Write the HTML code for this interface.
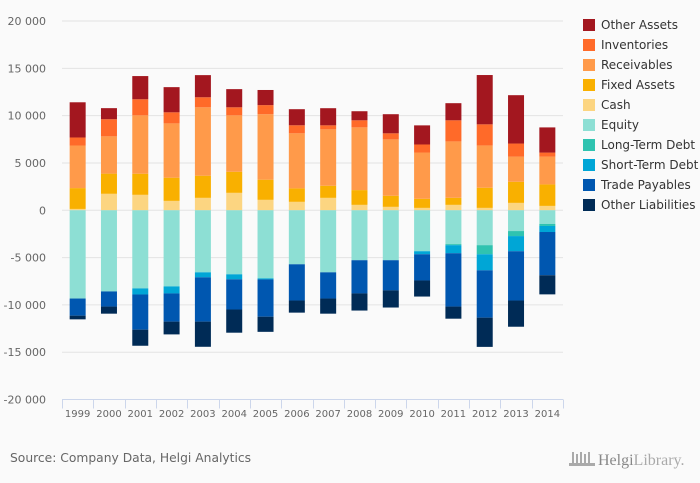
<!DOCTYPE html>
<html><head><meta charset="utf-8"><style>
body{margin:0;background:#fafafa;font-family:"Liberation Sans","DejaVu Sans",sans-serif;}
#wrap{position:relative;width:700px;height:483px;background:#fafafa;overflow:hidden}
svg text{font-family:"DejaVu Sans","Liberation Sans",sans-serif}
</style></head><body>
<div id="wrap">
<svg id="chart" width="700" height="483"></svg>
</div>
<script>
const years=["1999","2000","2001","2002","2003","2004","2005","2006","2007","2008","2009","2010","2011","2012","2013","2014"];
const cash=[140,1740,1630,990,1310,1840,1100,890,1310,570,360,250,570,250,780,460];
const fixedAssets=[2200,2130,2230,2450,2340,2230,2130,1420,1280,1560,1170,960,745,2130,2230,2270];
const receivables=[4500,3940,6170,5740,7230,5960,6920,5820,5960,6630,5960,4890,5960,4470,2660,2940];
const inventories=[850,1810,1700,1170,1060,850,960,850,425,745,640,850,2230,2230,1380,425];
const otherAssets=[3720,1170,2450,2660,2340,1920,1600,1700,1810,960,2020,2020,1810,5210,5110,2660];
const equity=[-9330,-8580,-8260,-8050,-6560,-6770,-7200,-5710,-6560,-5280,-5280,-4330,-3580,-3690,-2200,-1450];
const longTermDebt=[0,0,0,0,0,0,0,0,0,0,0,0,-110,-960,-530,-210];
const shortTermDebt=[0,0,-640,-740,-530,-530,-110,0,0,0,0,-320,-850,-1700,-1600,-640];
const tradePayables=[-1810,-1600,-3720,-2980,-4680,-3190,-3940,-3830,-2770,-3510,-3190,-2770,-5640,-5000,-5210,-4570];
const otherLiabilities=[-390,-750,-1700,-1350,-2660,-2450,-1600,-1280,-1600,-1810,-1810,-1700,-1280,-3090,-2770,-2020];
const yTicks=[20000,15000,10000,5000,0,-5000,-10000,-15000,-20000];
const yTickLabels=["20 000","15 000","10 000","5 000","0","-5 000","-10 000","-15 000","-20 000"];

const series=[
 {name:"Cash",data:cash,color:"#fcd581",key:"cash"},
 {name:"Fixed Assets",data:fixedAssets,color:"#f9b000",key:"fixed-assets"},
 {name:"Receivables",data:receivables,color:"#ff9a4a",key:"receivables"},
 {name:"Inventories",data:inventories,color:"#ff6a29",key:"inventories"},
 {name:"Other Assets",data:otherAssets,color:"#a3171f",key:"other-assets"},
 {name:"Equity",data:equity,color:"#8ddfd4",key:"equity"},
 {name:"Long-Term Debt",data:longTermDebt,color:"#2fc3b0",key:"long-term-debt"},
 {name:"Short-Term Debt",data:shortTermDebt,color:"#00a6d6",key:"short-term-debt"},
 {name:"Trade Payables",data:tradePayables,color:"#0057b0",key:"trade-payables"},
 {name:"Other Liabilities",data:otherLiabilities,color:"#002b56",key:"other-liabilities"}
];
const legendOrder=[4,3,2,1,0,5,6,7,8,9];

const NS="http://www.w3.org/2000/svg";
const svg=document.getElementById("chart");
function mk(t,a,p){const e=document.createElementNS(NS,t);for(const k in a)e.setAttribute(k,a[k]);(p||svg).appendChild(e);return e;}
const plotL=62,plotR=563,yTop=21,yBot=399.5;
function y(v){return yTop+(20000-v)/40000*(yBot-yTop);}
const band=(plotR-plotL)/years.length;
function xc(i){return plotL+band*(i+0.5);}
const bw=16;

yTicks.forEach((t,i)=>{
  if(t!==-20000){const g=mk("line",{x1:plotL,x2:plotR,y1:y(t),y2:y(t),stroke:"#e3e3e3","stroke-width":1});
  
  }
  const tx=mk("text",{x:46,y:y(t)+4,"text-anchor":"end","font-size":"11",fill:"#666"});
  tx.textContent=yTickLabels[i];
  
  
});

const posSum=years.map(()=>0),negSum=years.map(()=>0);
series.forEach(s=>{
  s.data.forEach((v,i)=>{
    if(!v)return;
    let y1,y2;
    if(v>0){y1=y(posSum[i]+v);y2=y(posSum[i]);posSum[i]+=v;}
    else{y1=y(negSum[i]);y2=y(negSum[i]+v);negSum[i]+=v;}
    const r=mk("rect",{x:xc(i)-bw/2,y:y1,width:bw,height:Math.max(0,y2-y1),fill:s.color});
    
    
  });
});

const ax=mk("line",{x1:plotL,x2:plotR,y1:yBot,y2:yBot,stroke:"#ccd6eb","stroke-width":1});


for(let i=0;i<=years.length;i++){
  const xx=Math.round(plotL+band*i)+0.5;
  const tk=mk("line",{x1:xx,x2:xx,y1:yBot,y2:yBot+9,stroke:"#ccd6eb","stroke-width":1});
  
  
}
years.forEach((yr,i)=>{
  const t=mk("text",{x:xc(i),y:417,"text-anchor":"middle","font-size":"10",fill:"#666"});
  t.textContent=yr;
  
  
});

legendOrder.forEach((si,k)=>{
  const s=series[si];
  const g=mk("g",{});
  
  
  const ly=25+k*20;
  mk("rect",{x:583,y:ly-6,width:12,height:12,fill:s.color},g);
  const t=mk("text",{x:601,y:ly+4,"font-size":"12",fill:"#333"},g);
  t.textContent=s.name;
});

const src=mk("text",{x:10,y:462,"font-size":"12.3",fill:"#666"});
src.textContent="Source: Company Data, Helgi Analytics";



const logo=mk("g",{});


[0,4,8,12,16].forEach((dx,i)=>mk("rect",{x:572+dx,y:452+(i%2?2:0),width:2,height:(i%2?10:12),fill:"#aaa"},logo));
mk("rect",{x:569,y:463,width:26,height:3,fill:"#aaa"},logo);
const lt=mk("text",{x:598,y:465,"font-size":"16",fill:"#888",style:"font-family:'Liberation Serif',serif"},logo);
lt.innerHTML='Helgi<tspan fill="#aaa">Library.</tspan>';
</script>
</body></html>
